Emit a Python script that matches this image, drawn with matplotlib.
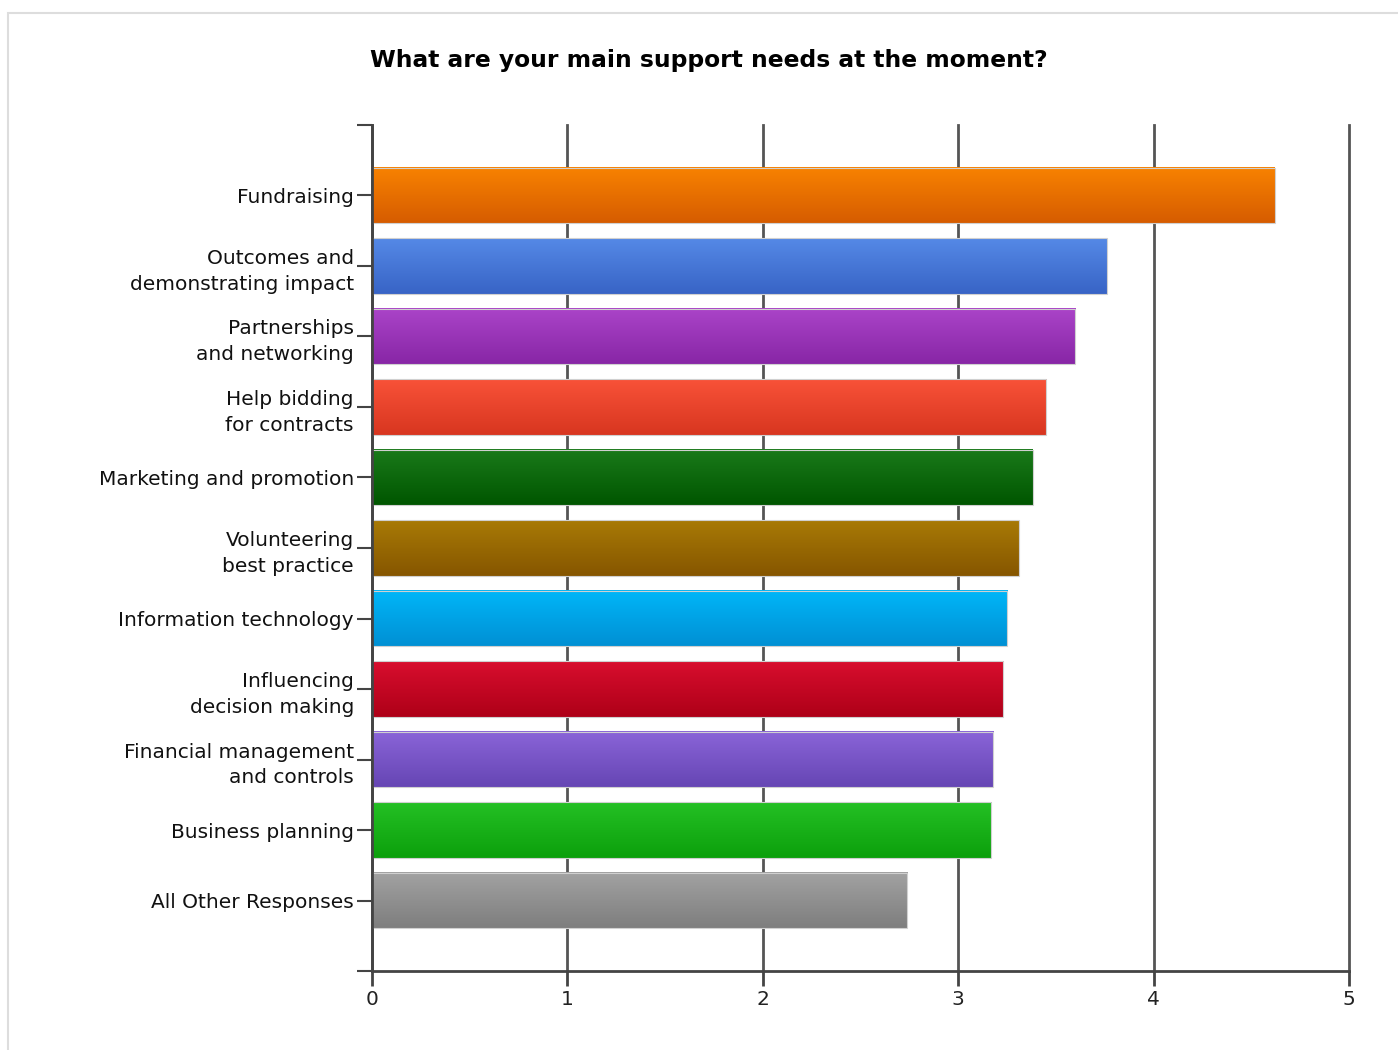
import numpy as np
import matplotlib.pyplot as plt
from matplotlib.colors import LinearSegmentedColormap
from matplotlib.patches import Rectangle

categories = ["Fundraising", "Outcomes and\ndemonstrating impact", "Partnerships\nand networking",
              "Help bidding\nfor contracts", "Marketing and promotion", "Volunteering\nbest practice",
              "Information technology", "Influencing\ndecision making", "Financial management\nand controls",
              "Business planning", "All Other Responses"]
values = [4.62, 3.76, 3.60, 3.45, 3.38, 3.31, 3.25, 3.23, 3.18, 3.17, 2.74]
top_colors = ["#F88200", "#5589E6", "#AA44C8", "#F85238", "#1A7A1A", "#A87A06",
              "#00B6F8", "#D80E2E", "#8A64D8", "#24C024", "#A2A2A2"]
bot_colors = ["#D65C00", "#3864C6", "#8826A6", "#D83620", "#005600", "#865600",
              "#0090D4", "#AE0018", "#6646B4", "#0CA00C", "#7E7E7E"]

plt.rcParams['font.family'] = ['DejaVu Sans']

fig = plt.figure(figsize=(13.98, 10.5), dpi=100)
fig.patches.append(Rectangle((0.006, -0.1), 1.1, 1.088, transform=fig.transFigure,
                             fill=False, edgecolor="#DDDDDD", lw=1.5))
ax = fig.add_axes([0.2661, 0.0752, 0.6989, 0.8058])

n = len(categories)
h = 0.79
grad = np.linspace(0, 1, 64).reshape(-1, 1)
for i, (v, c1, c2) in enumerate(zip(values, top_colors, bot_colors)):
    cmap = LinearSegmentedColormap.from_list("g%d" % i, [c1, c2])
    ax.imshow(grad, cmap=cmap, aspect="auto", extent=(0, v, i + h / 2, i - h / 2),
              zorder=3, interpolation="bilinear")
    ax.add_patch(Rectangle((0, i - h / 2), v, h, fill=False, edgecolor="#D0D0D0",
                           lw=0.8, zorder=4))

ax.set_xlim(0, 5)
ax.set_ylim(n, -1)
ax.set_xticks(range(6))
ax.set_xticklabels([str(t) for t in range(6)])
ax.set_yticks(list(range(-1, n + 1)))
ax.set_yticklabels([""] + categories + [""], linespacing=1.45)
ax.grid(axis="x", color="#555555", lw=2, zorder=1)
for gl in ax.get_xgridlines():
    gl.set_clip_on(False)
for s in ["top", "right"]:
    ax.spines[s].set_visible(False)
for s in ["left", "bottom"]:
    ax.spines[s].set_color("#444444")
    ax.spines[s].set_linewidth(2)
    ax.spines[s].set_zorder(5)
ax.tick_params(axis="y", length=11, width=1.5, color="#444444", labelsize=14.5, pad=2,
               labelcolor="#111111")
ax.tick_params(axis="x", length=11, width=2, color="#444444", labelsize=14.5, pad=3,
               labelcolor="#222222")
fig.text(0.2647, 1 - 60 / 1050, "What are your main support needs at the moment?",
         fontsize=16.8, fontweight="bold", ha="left", va="center")

fig.savefig("out.png", dpi=100)
